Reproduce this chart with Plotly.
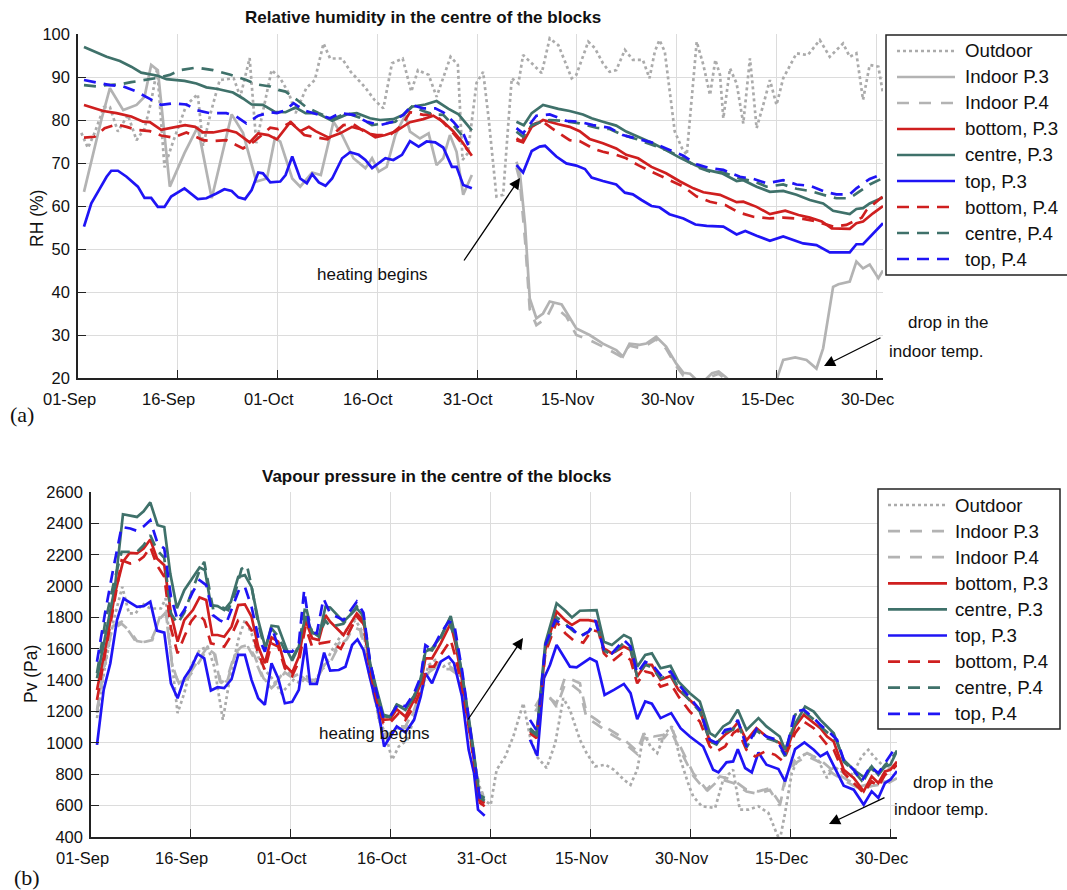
import datetime as dt
import plotly.graph_objects as go

BASE = dt.datetime(2013, 9, 1)
GAP = (62.0, None)

# x tick positions (days since 01-Sep) and their labels
tick_days = [0, 15, 30, 45, 60, 75, 90, 105, 120]
tick_labels = ["01-Sep", "16-Sep", "01-Oct", "16-Oct", "31-Oct", "15-Nov", "30-Nov", "15-Dec", "30-Dec"]

# ---------------- (a) Relative humidity (%) : (day since 01-Sep, value) ----------------
rh_outdoor = [(0.5,77),(1.5,73.5),(2.5,77),(3.9,83),(4.8,83),(6,77.3),(7.5,81.2),(8.8,75.3),(10,78),(11,84.3),
    (11.9,92),(13,69),(14.3,75),(16.3,83.5),(18,86),(18.8,74),(20,82),(21.3,89.3),(23.4,89.7),(24.4,85.4),
    (25.8,94.4),(26.8,74.6),(29.1,91.6),(30.4,89.7),(31.7,86.2),(32.7,81.6),(34.3,87.4),(35.6,89.3),(36.9,97.8),
    (37.9,94.3),(39.7,94.3),(41,91.2),(43.1,87.7),(44.6,84.6),(45.9,82.7),(47.2,93.2),(48.8,94.3),(50.1,86.6),
    (51.1,91.6),(52.7,90.5),(53.9,85.4),(56,94.7),(57.1,92.8),(57.8,70.7),(58.6,72.3),(59.9,88.6),(60.9,91.2),
    (61.7,80.7),(62.9,62.2),(63.9,62.6),(64.7,79.6),(65.2,89.7),(66.2,88.5),(66.9,95.1),(68.2,93.2),(69.7,90.9),
    (70.9,99),(72.2,97.4),(73.2,93.6),(74.2,89.7),(74.9,90.5),(76.7,98.2),(77.7,96.7),(78.9,93.2),(79.9,91.2),
    (80.9,91.6),(82.2,96.3),(83.4,94),(84.9,94),(85.9,89.7),(86.7,95.9),(87.4,98.6),(88.2,95.9),(88.9,86.6),
    (89.7,77.3),(90.8,73.4),(91.5,71.9),(93,98.2),(94,92.8),(95,85.8),(95.8,94),(96.5,90.5),(97,80.4),(98,92),
    (99,88.5),(100,79.2),(101,94.3),(101.5,86.6),(102,78.1),(103,83.5),(104,89.3),(105,83.5),(106,89.7),
    (108,95.5),(109.7,95.1),(111.5,98.6),(113,94.7),(115,97.8),(116,94.7),(117,95.5),(118,84.7),(119,92.8),
    (120.3,92.4),(121,86.2)]
rh_indoor_p3 = [(0.9,63.3),(2.3,72.6),(3.5,80),(4.8,87.4),(6.8,82.3),(8.8,83.5),(10,85.4),(11,92.8),(12,91.6),
    (13.8,64.5),(16,72.3),(18,78.4),(20.1,61.8),(23.1,81.3),(24.8,77),(26.8,65.7),(28.4,66.4),(29.6,75.8),
    (30.4,75),(32.2,66.4),(33.4,64.5),(35.2,67.8),(36.5,67.2),(38.4,79.6),(39.7,76.5),(41.4,71.1),(43.2,68.8),
    (44.2,71.1),(45.2,68),(46.4,69.1),(47.7,76.5),(49.2,81.2),(49.9,77.3),(51.4,75.7),(52.7,76.9),(53.9,69.5),
    (54.9,71.1),(55.9,76.5),(56.9,72.6),(57.9,62.6),(59.2,67.2),GAP,
    (65.9,70.3),(66.4,68),(67.2,55.6),(67.9,38.5),(68.9,33.9),(69.9,35),(70.9,37.8),(72.7,37.1),(74.9,31.5),
    (76.9,30),(78.9,28),(80.9,26.5),(81.9,25),(82.9,28),(84.4,27.7),(85.4,28),(86.9,29.6),(88.4,27.3),
    (89.9,23.4),(91,21.2),(92,21),(93,19.5),(94.3,19.6),(95.3,21.1),(96.3,21.5),(97.3,20.3),(98.5,18.5),
    (101,18),(104,18.5),(105,19.6),(106,24.2),(107.8,24.8),(109.5,24.2),(111,22.2),(112,26.9),(113.5,41.2),
    (114.3,41.8),(116,42.4),(117,47.1),(118,45.5),(119,46.4),(120.3,43.2),(121,45)]
rh_indoor_p4 = [(65.9,69),(66.4,66),(67.2,52),(67.9,36),(68.9,32.3),(69.9,33.5),(70.4,33.9),(71.4,37),
    (73.4,34.3),(74.9,30),(76.9,28.8),(79.4,26.9),(81.6,25),(82.9,27.5),(84.4,27),(85.4,27.6),(86.9,29),
    (88.4,26.8),(89.9,22.8),(91,20.5),(92,20.3),(93,19),(95.3,20.5),(96.3,21),(97.3,19.8),(99,18),(104,18)]
rh_bottom_p3 = [(0.9,83.5),(3.8,82.1),(5.8,81.6),(8,80.8),(9.8,79.6),(10.8,79.5),(12.5,77.7),(13.8,78.1),
    (16.1,78.8),(17.6,78.4),(18.8,77.1),(20.3,77.1),(22.3,77.7),(23.8,77.1),(25.8,74.8),(27.1,76.9),(28.6,76.5),
    (29.9,75.5),(31.9,79.5),(33.4,77.4),(34.7,78.4),(35.7,77.4),(37.7,75.9),(39.4,76.9),(41.2,78.4),(42.9,77.7),
    (44.7,76),(46.2,76.5),(47.7,77.3),(49.9,79.5),(51.9,80.2),(53.4,81),(54.9,79.6),(56.4,77.4),(57.7,75),
    (59.2,71.7),GAP,
    (65.9,75.3),(66.9,74.8),(68.2,78.4),(69.9,80),(72.2,79),(73.9,78.4),(75.4,77.4),(76.9,75.6),(78.9,74.6),
    (80.9,73.4),(82.4,71.9),(84.2,71.1),(86.2,69.1),(88.4,67.6),(90.5,65.7),(92.5,64.1),(94,63.2),(96.5,62.6),
    (99,60.9),(100,61),(102,59.8),(104,58.1),(106.3,58.9),(108.3,57.9),(110,57.3),(111.8,56.4),(113.3,54.8),
    (116,54.7),(117,56),(118,56.4),(119.5,58.3),(121,60)]
rh_centre_p3 = [(0.9,97),(2.3,96),(4.3,94.7),(6.3,93.7),(8,92.4),(9.5,91),(11,90.5),(12,90.3),(13.3,89.5),
    (16,89.1),(17.8,88.5),(19.3,87.6),(21,87.2),(23.3,86.4),(24.8,85),(26.1,83.6),(27.8,83.5),(29.6,81.9),
    (31.2,81.8),(32.7,82.9),(34.2,81.6),(35.9,81.6),(38.2,79.8),(40.4,81.3),(41.9,81.6),(43.9,80.4),(45.4,80),
    (47.4,80.2),(48.9,81.2),(50.2,83.1),(52.2,83.6),(53.9,84.4),(55.7,82.6),(57.2,81.3),(59.2,77.6),GAP,
    (65.9,79.6),(67,78.8),(68.2,81.6),(69.9,83.5),(72.2,82.6),(73.9,82.1),(75.9,81.3),(77.2,80.4),(78.9,79.6),
    (80.9,78.7),(82.4,77.3),(84.4,75.9),(86.4,74.6),(88.4,73),(90.5,71.2),(92.8,69.5),(94.5,68.4),(96.8,67.6),
    (99,65.8),(100,66),(102,64.5),(104,63.3),(106,63.5),(108,62.6),(110,61.4),(112,60.6),(113.5,58.9),
    (116,58.1),(117,59.3),(118,59.5),(119,60.6),(121,62)]
rh_top_p3 = [(0.9,55.2),(2,60.6),(3.3,64.1),(4.3,66.8),(5,68.2),(6,68.2),(7.3,66.8),(9,64.5),(10,61.9),(11,61.9),
    (12,59.8),(13,59.8),(14,62.2),(16,64.1),(18,61.6),(19.3,61.8),(20.8,62.9),(22,63.9),(23.1,63.5),(24.1,62),
    (25.1,61.6),(26.1,63.7),(27.1,67.8),(27.8,67.6),(28.9,65.5),(30.4,65.7),(31.2,67.2),(32.2,71.5),(33.4,66.4),
    (34.4,65.3),(35.2,67.4),(36.2,65.5),(37.2,64.7),(38.2,66.4),(39.7,71.1),(40.9,72.5),(42.2,71.9),(43.2,70.7),
    (44.2,68.8),(46.2,71.1),(47.4,70.7),(48.7,71.9),(49.9,75.1),(51.2,73.8),(52.4,75),(53.7,74.8),(54.9,73.6),
    (56.2,69.1),(56.9,69.1),(57.9,64.9),(59.2,64.1),GAP,
    (65.9,69.5),(66.9,67.8),(68.2,72.8),(69.4,73.8),(70.2,74),(71.9,71.5),(73.4,69.9),(74.9,69.4),(76.2,68.6),
    (77.2,66.6),(78.9,65.8),(80.9,65),(82.2,63.1),(83.4,62.7),(84.7,61.4),(86.2,60),(87.4,59.7),(88.9,58.1),
    (91,57.1),(92.8,55.7),(94.5,55.4),(97,55.2),(99,53.4),(100.3,54.2),(102,53.1),(104,51.9),(106,52.9),
    (109,51.3),(111,50.9),(113,49.2),(116,49.2),(117,51.1),(118,51.1),(121,56)]
rh_bottom_p4 = [(0.9,75.9),(2.5,76.1),(4,78.1),(5.8,79),(7.3,78.4),(8.8,77.7),(10.8,77.4),(12.5,76.4),(14.3,75.9),
    (16.3,77.1),(18.8,75.3),(20.3,75.1),(22.3,75.3),(24.8,73.4),(26.5,75),(28.9,78.2),(30.1,77.9),(32,79.5),
    (34,76.5),(35.6,76),(37.5,75.5),(39.9,78.8),(41.4,79),(43.4,76.9),(44.9,76.5),(46.9,76.5),(48.7,78.8),
    (49.9,81.8),(51.9,81.2),(53.4,81.3),(54.4,80.2),(56.2,77.3),(57.7,74.6),(58.8,72.6),GAP,
    (65.9,75.7),(66.7,75),(68.2,78.8),(69.7,79.8),(71.2,78.1),(73.9,75.3),(75.4,75.1),(77.4,73.4),(78.9,72.6),
    (80.9,71.9),(82.4,71.1),(84.2,69.5),(86.2,68),(88.4,66.4),(91,64.5),(93,62.2),(95,61),(97.3,60.2),
    (99.3,58.5),(101.5,57.5),(104,57.1),(106,57.3),(109,57),(111,56.4),(113.5,55.2),(115.5,55.6),(117.8,57.3),
    (118.5,59),(121,62.3)]
rh_centre_p4 = [(0.9,88.1),(2.8,87.8),(4.3,88.1),(6.3,88.3),(8,88.8),(10.3,89.3),(12,89.8),(13.8,90.5),
    (15.3,91.6),(17.8,92.2),(20.3,91.6),(22.8,90.6),(25.3,89.3),(26.8,88.3),(28.9,87.8),(30.1,87),(31.2,86.6),
    (32.9,84.7),(34.2,83.1),(36.2,81.6),(38.2,80.2),(40.4,81.6),(42.4,80.5),(44.2,78.8),(46.2,79.2),(47.7,79.6),
    (48.9,81.2),(50.2,83.1),(51.9,82.1),(53.4,81.3),(54.9,81.2),(56.4,78.8),(57.9,76.1),(58.7,74.5),GAP,
    (65.9,77.3),(66.9,76.1),(68.2,78.8),(69.7,79.6),(70.9,80),(72.9,79.8),(75.4,79.2),(77.9,78.2),(79.9,77.9),
    (81.9,76.5),(83.9,75.6),(86.2,74.3),(88.4,73),(91,71.1),(93,69.1),(95,68),(97,67.8),(99.5,66.4),
    (101.5,65.8),(103.5,64.5),(106,65),(108,64),(110,63.5),(112.5,62.4),(114,61.8),(116,61.8),(117,62.9),
    (119,65),(121,66.5)]
rh_top_p4 = [(0.9,89.3),(2.8,88.8),(4.8,88.1),(6.8,87.8),(8.8,86.6),(10.8,84.9),(12.5,83.5),(14.3,83.9),
    (16.3,83.6),(17.8,82.3),(19.8,81.6),(22.3,81.6),(23.8,80.8),(25.3,79.2),(27.1,81),(28.9,81.8),(29.9,81.6),
    (31.2,82.3),(32.4,83.9),(33.9,82.3),(35.9,81.3),(37.9,80.4),(39.4,81.6),(41.4,81.2),(43.4,79.6),(45.4,78.8),
    (47.4,79.6),(48.9,81.2),(50.2,83.5),(51.9,82.7),(53.7,82.7),(54.9,81.8),(56.4,79.6),(57.9,76.9),(58.7,74),GAP,
    (65.9,78.1),(66.9,76.9),(68.2,79.6),(68.9,81),(70.9,81.3),(73.4,79.8),(75.4,79.6),(77.4,78.8),(79.9,78.2),
    (81.9,76.5),(83.9,75.7),(86.2,74.8),(88.4,73.4),(91,71.7),(93,69.7),(95,68.8),(97,68.4),(99.5,66.8),
    (101.5,66.3),(103.5,65.3),(106,66),(108,65),(110,64.7),(112.5,63.2),(114,62.7),(116,62.7),(117,64.1),
    (119,66.3),(121,67.5)]

# ---------------- (b) Vapour pressure (Pa) ----------------
pv_outdoor = [(0.9,1158),(2.1,1487),(3.4,1783),(4.7,1995),(5.7,1826),(6.7,1826),(7.7,1889),(8.9,1857),(10.5,1857),
    (11.2,1921),(12,1571),(13,1190),(14,1317),(15,1487),(16.3,1593),(17.5,1614),(18.5,1487),(19.8,1147),(20.8,1402),
    (22.1,1656),(23.1,1783),(24.1,1699),(25.1,1550),(26.1,1465),(27.4,1402),(28.6,1317),(30.4,1402),(31.4,1380),
    (32.4,1423),(33.5,1380),(34.9,1487),(36.2,1593),(37.4,1677),(38.7,1741),(39.7,1783),(40.9,1699),(42.2,1402),
    (43.2,1147),(44.2,1062),(45.2,892),(46.2,977),(47.5,1020),(48.7,1190),(49.7,1359),(50.7,1497),(51.7,1529),
    (52.9,1487),(53.9,1508),(55,1487),(56,1317),(57,1041),(58,765),(59,638),(60,605),(60.9,829),(62.2,914),
    (63.4,1041),(64.9,1253),(65.9,1041),(66.9,914),(68.4,840),(69.7,999),(70.9,1285),(71.9,1211),(73.4,1020),
    (74.4,935),(75.7,850),(77.2,861),(78.5,829),(80,765),(81,733),(82,829),(83,1062),(84,977),(85,935),
    (86.2,1062),(87.2,1105),(88.5,892),(89.8,723),(90.4,659),(91.7,596),(93.7,585),(94.9,765),(96.4,829),
    (97.4,574),(98.7,574),(100.2,596),(101.7,553),(102.9,426),(103.4,380),(104.2,553),(105.2,808),(106.2,903),
    (107.5,935),(109,903),(110.5,776),(111.5,850),(113,808),(114,786),(114.7,829),(115.7,914),(116.7,956),
    (117.5,914),(118.5,871),(119.5,829),(121,870)]
pv_indoor_p3 = [(0.9,1190),(1.9,1487),(3.1,1741),(4.6,1773),(5.9,1699),(6.9,1635),(8.2,1646),(9.2,1656),
    (10.5,1826),(11.2,1847),(12.2,1487),(13.2,1380),(14.5,1423),(16,1518),(17.5,1614),(18.5,1593),(19.5,1380),
    (20.5,1420),(21.6,1571),(22.6,1614),(23.6,1624),(24.6,1550),(25.9,1412),(27.1,1359),(28.1,1402),(29.1,1465),
    (30.4,1423),(31.4,1444),(32.7,1402),(33.7,1402),(34.7,1487),(35.9,1529),(37.2,1635),(38.4,1677),(39.4,1762),
    (40.4,1741),(41.7,1465),(42.9,1232),(43.9,1041),(44.9,1062),(45.9,1105),(47.2,1105),(48.5,1211),(49.7,1359),
    (50.7,1465),(51.7,1497),(52.9,1487),(53.9,1487),(54.9,1455),(55.9,1300),(56.9,1050),(57.9,800),(58.9,660),GAP,
    (66.7,1232),(67.7,1306),(68.7,1290),(69.9,1253),(71.2,1423),(72.2,1402),(73.4,1380),(74.4,1190),(75.9,1147),
    (77.5,1094),(79.5,1041),(82,946),(83,1062),(84.5,1041),(86,1052),(87,1105),(88.5,977),(90.4,808),(92.4,702),
    (94.4,786),(96.4,765),(98.4,702),(100.2,691),(101.9,712),(103.4,617),(104.4,808),(105.7,892),(107.5,935),
    (109.5,892),(111.5,818),(113.5,765),(115.5,723),(117.5,744),(119.5,755),(121,790)]
pv_indoor_p4 = [(0.9,1210),(1.9,1460),(3.1,1720),(4.6,1760),(5.9,1710),(6.9,1650),(8.2,1640),(9.2,1670),
    (10.5,1800),(11.2,1830),(12.2,1500),(13.2,1370),(14.5,1410),(16,1500),(17.5,1600),(18.5,1570),(19.5,1360),
    (20.5,1400),(21.6,1560),(22.6,1600),(23.6,1610),(24.6,1530),(25.9,1400),(27.1,1350),(28.1,1390),(29.1,1450),
    (30.4,1410),(31.4,1430),(32.7,1390),(33.7,1390),(34.7,1470),(35.9,1510),(37.2,1620),(38.4,1660),(39.4,1740),
    (40.4,1720),(41.7,1450),(42.9,1220),(43.9,1030),(44.9,1050),(45.9,1090),(47.2,1095),(48.5,1200),(49.7,1340),
    (50.7,1450),(51.7,1480),(52.9,1470),(53.9,1470),(54.9,1440),(55.9,1290),(56.9,1040),(57.9,790),(58.9,650),GAP,
    (66.7,1200),(67.7,1270),(68.8,1295),(69.9,1230),(71.2,1380),(72.2,1370),(73.4,1330),(74.4,1160),(75.9,1120),
    (77.5,1070),(79.5,1020),(82,930),(83,1035),(84.5,1015),(86,1030),(87,1080),(88.5,950),(90.4,790),(92.4,690),
    (94.4,770),(96.4,745),(98.4,690),(100.2,675),(101.9,700),(103.4,600),(104.4,790),(105.7,870),(107.5,915),
    (109.5,875),(111.5,800),(113.5,750),(115.5,705),(117.5,728),(119.5,740),(121,775)]
pv_bottom_p3 = [(0.9,1338),(2.4,1656),(3.6,1953),(4.8,2155),(5.8,2212),(6.9,2208),(7.9,2239),(8.9,2297),
    (9.9,2176),(11,2133),(12,1826),(13,1646),(14,1783),(15.3,1847),(16.3,1928),(17.3,1911),(18.2,1688),(19,1688),
    (20,1677),(21.1,1741),(22.1,1879),(23.1,1883),(24.1,1805),(25.1,1614),(26.1,1508),(27.1,1673),(28.1,1646),
    (29.1,1497),(30.2,1448),(31.2,1550),(32.2,1783),(33.2,1667),(34.2,1656),(35.2,1815),(35.9,1773),(37.9,1688),
    (39.9,1826),(40.9,1780),(41.9,1487),(42.9,1296),(43.9,1147),(44.9,1151),(45.9,1215),(47.2,1168),(48.5,1274),
    (49.5,1380),(50.2,1539),(51.2,1539),(52.5,1635),(54,1762),(54.7,1635),(55.7,1402),(56.7,1126),(57.5,892),
    (58.2,638),(59.1,617),GAP,
    (65.9,1073),(66.9,1041),(68.2,1593),(69.9,1837),(71.2,1783),(72.2,1752),(73.4,1783),(74.7,1783),(75.9,1773),
    (77,1603),(78.2,1571),(80,1614),(81,1593),(82,1423),(83.2,1497),(84.2,1497),(85.5,1402),(87,1427),(88.2,1338),
    (89.9,1274),(91.4,1211),(92.9,1009),(93.9,999),(95.2,1052),(96.2,1083),(97.1,1130),(98.4,1016),(99.9,1094),
    (101.4,1041),(103.4,999),(104.2,924),(105.7,1105),(107,1179),(108.5,1126),(109.5,1094),(110.5,1041),
    (111.5,1009),(113,829),(114.5,776),(116,691),(117.2,786),(118.2,744),(119.2,818),(120,829),(121,880)]
pv_centre_p3 = [(0.9,1412),(2.4,1741),(3.6,1995),(4.8,2458),(5.8,2452),(6.9,2441),(7.9,2477),(8.9,2534),
    (10,2388),(11,2377),(11.9,2080),(12.9,1858),(14,1974),(15.3,2059),(16.3,2119),(17.1,2102),(18,1879),(19,1872),
    (20,1847),(21,1900),(22.1,2059),(23.1,2070),(24.1,1995),(25.1,1783),(26.2,1603),(27.1,1747),(28.1,1741),
    (29.4,1593),(30.2,1525),(31.2,1614),(32.2,1809),(33.2,1709),(34.2,1677),(35.2,1868),(35.9,1864),(37.9,1773),
    (39.9,1858),(40.9,1810),(41.9,1508),(42.9,1338),(43.9,1179),(44.9,1168),(45.9,1243),(47.2,1211),(48.5,1296),
    (49.5,1402),(50.2,1582),(51.2,1603),(52.5,1677),(54,1809),(54.7,1677),(55.7,1444),(56.7,1147),(57.5,935),
    (58.2,670),(59.1,649),GAP,
    (65.9,1094),(66.9,1052),(68.2,1635),(69.9,1890),(71.2,1843),(72.2,1800),(73.4,1843),(74.7,1847),(75.9,1847),
    (77,1645),(78.2,1624),(80,1688),(81,1667),(82,1486),(83.2,1561),(84.2,1571),(85.5,1476),(87,1491),(88.2,1391),
    (89.9,1317),(91.4,1264),(92.9,1062),(93.7,1041),(94.9,1105),(95.9,1130),(97.1,1211),(98.4,1083),(100.2,1158),
    (101.4,1105),(103.4,1041),(104.2,956),(105.5,1105),(107.2,1232),(108.5,1200),(109.5,1147),(110.5,1105),
    (111.5,1062),(113,892),(114.5,829),(116.2,776),(117.2,850),(118.2,797),(119.2,850),(120,860),(121,950)]
pv_top_p3 = [(0.9,988),(1.9,1338),(2.9,1508),(3.9,1783),(4.9,1921),(5.9,1894),(6.9,1868),(7.9,1872),(8.9,1900),
    (9.9,1716),(11,1703),(12,1380),(13,1285),(14,1412),(15,1476),(16,1567),(17,1539),(18,1334),(19,1355),(20,1349),
    (21.1,1406),(22.1,1561),(23.1,1561),(24.1,1402),(25.1,1285),(26.1,1243),(27.1,1508),(28.1,1412),(29.1,1253),
    (30.2,1262),(31.2,1338),(32.2,1635),(32.9,1376),(33.9,1376),(35,1576),(35.9,1461),(37.2,1465),(38.2,1486),
    (39.2,1624),(40,1660),(40.9,1593),(42.2,1359),(43.2,1190),(44,977),(44.9,1041),(45.9,1105),(47.2,1067),
    (48.5,1147),(49.5,1296),(50.2,1444),(51.2,1380),(52.5,1518),(53.7,1550),(54.5,1508),(55.7,1296),(56.7,956),
    (57.5,808),(58.1,574),(59.1,536),GAP,
    (65.9,1020),(67,918),(68,1412),(68.9,1497),(69.9,1624),(71.9,1486),(72.9,1482),(74.9,1539),(75.9,1518),
    (77.1,1306),(78.5,1338),(80,1376),(81,1317),(82,1151),(83.2,1264),(84.2,1250),(85.5,1158),(87.1,1190),
    (88.5,1094),(89.9,1041),(91.9,977),(93.4,829),(94.2,812),(95.4,876),(96.4,882),(97.1,960),(98.2,840),
    (99.2,812),(100.2,939),(101.4,861),(103.2,833),(104.2,755),(105.7,960),(107.1,1003),(108.5,956),(109.5,914),
    (110.5,939),(111.5,850),(113,727),(114.5,702),(116,606),(117.2,691),(118.2,649),(119.2,744),(120,765),(121,820)]
pv_bottom_p4 = [(0.9,1274),(2.1,1571),(3.4,1889),(4.6,2165),(5.9,2144),(6.9,2155),(7.9,2186),(8.9,2250),
    (9.9,2133),(11,2059),(12,1730),(13,1571),(14,1677),(15,1773),(16,1826),(17,1783),(18,1635),(19,1624),(20,1614),
    (21.1,1688),(22.1,1783),(23.1,1783),(24.1,1720),(25.1,1571),(26.1,1465),(27.1,1635),(28.1,1614),(29.1,1476),
    (30.2,1427),(31.2,1518),(32.2,1741),(33.2,1614),(34.4,1635),(35.9,1646),(37.5,1600),(39.9,1805),(40.9,1760),
    (41.9,1455),(42.9,1274),(43.9,1126),(44.9,1130),(46.2,1190),(47.2,1147),(48.5,1232),(49.5,1338),(50.5,1487),
    (51.5,1487),(52.5,1561),(54,1656),(54.7,1550),(55.7,1359),(56.7,1105),(57.5,871),(58.4,617),(59.1,596),GAP,
    (65.9,1062),(66.9,1030),(68.2,1571),(69.9,1773),(71.2,1699),(72.4,1656),(73.9,1639),(75.2,1720),(76.2,1709),
    (77,1571),(78.2,1518),(79.7,1571),(81,1529),(82,1380),(83.2,1455),(84.2,1444),(85.5,1359),(87,1380),(88.2,1296),
    (89.9,1200),(91.4,1136),(92.9,977),(93.9,945),(95.2,977),(96.4,1062),(97.1,1083),(98.4,956),(99.7,914),
    (101.2,945),(102.7,924),(103.9,882),(105.7,1062),(107,1136),(108.5,1094),(109.5,1041),(110.5,988),(111.5,956),
    (113,808),(114.5,744),(116,681),(117.2,755),(118.2,723),(119.2,797),(120,818),(121,860)]
pv_centre_p4 = [(0.9,1444),(2.1,1762),(3.4,2017),(4.6,2218),(5.9,2218),(6.9,2218),(7.9,2260),(8.9,2324),
    (9.9,2230),(11,2180),(12,1826),(13,1760),(14,1830),(15.3,1990),(16.3,2100),(17,2155),(18.3,1860),(19.5,1868),
    (20.6,1847),(21.6,1950),(22.6,2110),(23.4,2133),(24.1,2000),(25.1,1762),(26.1,1600),(27.1,1730),(28.1,1680),
    (29.1,1590),(30.2,1540),(31.2,1620),(32.2,1880),(33.2,1700),(34.2,1690),(35.2,1780),(35.9,1741),(37.9,1760),
    (39.9,1870),(40.9,1800),(41.9,1500),(42.9,1320),(43.9,1170),(44.9,1165),(45.9,1245),(47.2,1220),(48.5,1300),
    (49.5,1410),(50.2,1600),(51.2,1590),(52.5,1670),(53.7,1780),(54.7,1660),(55.7,1440),(56.7,1140),(57.5,900),
    (58.4,650),(59.1,630),GAP,
    (65.9,1080),(66.9,1050),(68.2,1600),(69.9,1800),(71.2,1760),(72.2,1720),(73.4,1680),(74.7,1710),(75.9,1760),
    (77,1590),(78.2,1560),(80,1640),(81,1600),(82,1420),(83.2,1500),(84.2,1480),(85.5,1410),(87,1440),(88.2,1350),
    (89.9,1270),(91.4,1200),(92.9,1010),(93.9,990),(95.2,1070),(96.4,1085),(97.1,1140),(98.4,970),(99.9,1080),
    (101.4,1030),(102.9,1010),(104.2,915),(105.7,1180),(107,1200),(108.5,1150),(109.5,1105),(111,1050),(112,1010),
    (113,880),(114.5,820),(115.7,760),(117,840),(118.2,800),(119.2,860),(120,890),(121,950)]
pv_top_p4 = [(0.9,1518),(2.1,1826),(3.4,2123),(4.6,2377),(5.9,2367),(6.9,2352),(7.9,2380),(8.9,2420),(10,2271),
    (11,2240),(12,1932),(13,1783),(14,1847),(15.3,1964),(16.3,2038),(17.3,2006),(18.3,1815),(19.3,1783),(20.3,1762),
    (21.3,1868),(22.3,1985),(23.1,1995),(24.1,1868),(25.1,1677),(26.1,1582),(27.1,1741),(28.1,1614),(29.1,1582),
    (30.2,1582),(31.2,1635),(32,1974),(32.9,1709),(33.9,1699),(34.9,1921),(35.9,1826),(37.9,1783),(39.9,1900),
    (40.9,1830),(41.9,1518),(42.9,1317),(43.9,1158),(44.9,1168),(46.2,1253),(47.2,1232),(48.5,1317),(49.5,1423),
    (50.2,1624),(51.2,1593),(52.5,1699),(53.7,1773),(54.5,1762),(55.7,1465),(56.7,1147),(57.5,892),(58.4,638),
    (59.1,617),GAP,
    (65.9,1147),(67,1073),(68.2,1624),(69.7,1783),(71,1752),(72.2,1730),(73.4,1677),(74.7,1709),(75.7,1783),
    (77,1593),(78.2,1571),(80,1656),(81,1614),(82,1444),(83.2,1518),(84.5,1487),(85.7,1423),(87,1455),(88.5,1359),
    (89.9,1285),(91.4,1211),(92.9,1020),(93.9,999),(95.2,1083),(96.4,1094),(97.1,1147),(98.4,977),(99.9,1088),
    (101.4,1041),(102.9,1020),(104.2,924),(105.7,1200),(107,1211),(108.5,1158),(109.5,1115),(111,1062),(112,1020),
    (113,892),(114.5,829),(115.7,755),(117,850),(118.2,808),(119.2,871),(120,914),(121,985)]

# ---------------- styling ----------------
W, H = 1067, 890
FONT = "Liberation Sans, Arial, Helvetica, sans-serif"
SERIF = "Liberation Serif, Times New Roman, serif"
RED, TEAL, BLUE = "#cf1f1f", "#3f716a", "#1f14f5"
GREY_IN, GREY_OUT = "#b3b3b3", "#ababab"
DASH = "12px,8px"
GDASH = "12px,10px"
LW = 2.7


def px(xp):
    return xp / W


def py(yp):
    return 1 - yp / H


def day(d):
    return (BASE + dt.timedelta(days=d)).strftime("%Y-%m-%d %H:%M")


def xy(pairs):
    return [day(d) for d, _ in pairs], [v for _, v in pairs]


fig = go.Figure()

def add(pairs, name, color, dash, xa, ya):
    xs, ys = xy(pairs)
    fig.add_trace(go.Scatter(x=xs, y=ys, name=name, mode="lines", xaxis=xa, yaxis=ya,
                             connectgaps=False, showlegend=False,
                             line=dict(color=color, width=LW, dash=dash)))

top = [(rh_outdoor, "Outdoor", GREY_OUT, "dot"), (rh_indoor_p3, "Indoor P.3", GREY_IN, "solid"),
       (rh_indoor_p4, "Indoor P.4", GREY_IN, GDASH), (rh_bottom_p3, "bottom, P.3", RED, "solid"),
       (rh_centre_p3, "centre, P.3", TEAL, "solid"), (rh_top_p3, "top, P.3", BLUE, "solid"),
       (rh_bottom_p4, "bottom, P.4", RED, DASH), (rh_centre_p4, "centre, P.4", TEAL, DASH),
       (rh_top_p4, "top, P.4", BLUE, DASH)]
for p, n, c, d in top:
    add(p, n, c, d, "x", "y")

bot = [(pv_outdoor, "Outdoor", GREY_OUT, "dot"), (pv_indoor_p3, "Indoor P.3", GREY_IN, GDASH),
       (pv_indoor_p4, "Indoor P.4", GREY_IN, GDASH), (pv_bottom_p3, "bottom, P.3", RED, "solid"),
       (pv_centre_p3, "centre, P.3", TEAL, "solid"), (pv_top_p3, "top, P.3", BLUE, "solid"),
       (pv_bottom_p4, "bottom, P.4", RED, DASH), (pv_centre_p4, "centre, P.4", TEAL, DASH),
       (pv_top_p4, "top, P.4", BLUE, DASH)]
for p, n, c, d in bot:
    add(p, n, c, d, "x2", "y2")

common_x = dict(type="date", range=[day(0), day(121)], tickmode="array",
                tickvals=[day(d) for d in tick_days], showticklabels=False,
                ticks="inside", ticklen=8, tickwidth=1.2, tickcolor="#222",
                showline=True, linecolor="#222", linewidth=1.5, showgrid=True, gridcolor="#dcdcdc",
                gridwidth=1, zeroline=False)
common_y = dict(ticks="inside", ticklen=8, tickwidth=1.2, tickcolor="#222", showline=True,
                linecolor="#222", linewidth=1.5, showgrid=True, gridcolor="#dcdcdc", gridwidth=1,
                tickfont=dict(family=FONT, size=16.5, color="#111"), zeroline=False,
                ticklabelstandoff=3)

fig.update_layout(
    width=W, height=H, margin=dict(l=0, r=0, t=0, b=0, autoexpand=False),
    paper_bgcolor="white", plot_bgcolor="white", showlegend=False,
    xaxis=dict(domain=[px(78), px(883)], anchor="y", **common_x),
    yaxis=dict(domain=[py(378), py(34)], anchor="x", range=[20, 100], dtick=10, **common_y),
    xaxis2=dict(domain=[px(91), px(897)], anchor="y2", **common_x),
    yaxis2=dict(domain=[py(837), py(492)], anchor="x2", range=[400, 2600], dtick=200, **common_y),
)

ann = []
shapes = []

def text(x, y, t, size=17, bold=False, family=FONT, angle=0, anchor="center"):
    ann.append(dict(xref="paper", yref="paper", x=px(x), y=py(y), text=("<b>%s</b>" % t) if bold else t,
                    showarrow=False, xanchor=anchor, yanchor="middle", textangle=angle,
                    font=dict(family=family, size=size, color="#111")))

def arrow(x0, y0, x1, y1):
    ann.append(dict(xref="paper", yref="paper", x=px(x1), y=py(y1), ax=x0 - x1, ay=y0 - y1,
                    axref="pixel", ayref="pixel", text="", showarrow=True, arrowhead=2,
                    arrowsize=1.7, arrowwidth=1.3, arrowcolor="#000"))

# date tick labels, placed through each x axis scale (drawn a little left of their ticks)
def xtick_labels(xref, ypix):
    for d, lab in zip(tick_days, tick_labels):
        ann.append(dict(xref=xref, yref="paper", x=day(d), y=py(ypix), text=lab, showarrow=False,
                        xanchor="center", yanchor="middle", xshift=-9,
                        font=dict(family=FONT, size=16.5, color="#111")))

xtick_labels("x", 399)
xtick_labels("x2", 858)

def legend_box(entries, x0, x1, y0, y1, row0, step, lx0, lx1, tx):
    shapes.append(dict(type="rect", xref="paper", yref="paper", x0=px(x0), x1=px(x1),
                       y0=py(y1), y1=py(y0), line=dict(color="#222", width=1.5),
                       fillcolor="white", layer="above"))
    for i, (_, name, color, dash) in enumerate(entries):
        yy = row0 + i * step
        shapes.append(dict(type="line", xref="paper", yref="paper", x0=px(lx0), x1=px(lx1),
                           y0=py(yy), y1=py(yy), line=dict(color=color, width=LW, dash=dash),
                           layer="above"))
        text(tx, yy, name, size=18.7, anchor="left")

legend_box(top, 886, 1080, 35, 275, 51, 26.0, 897, 955, 963)
legend_box(bot, 878, 1060, 489, 729, 505, 26.1, 888, 947, 953)

text(423, 17, "Relative humidity in the centre of the blocks", size=17, bold=True)
text(437, 477, "Vapour pressure in the centre of the blocks", size=17, bold=True)
text(37, 219, "RH (%)", size=17.5, angle=-90)
text(31, 674, "Pv (Pa)", size=17.5, angle=-90)
text(22, 414, "(a)", size=22, family=SERIF)
text(27, 877, "(b)", size=22, family=SERIF)
text(372, 274, "heating begins")
text(948, 322, "drop in the")
text(936, 351, "indoor temp.")
text(374, 733, "heating begins")
text(953, 782, "drop in the")
text(941, 809, "indoor temp.")
arrow(463, 262, 520, 178)
arrow(882, 337, 824, 366)
arrow(467, 721, 523, 638)
arrow(886, 797, 829, 824)
fig.update_layout(annotations=ann, shapes=shapes)

fig.write_html("out.html")
